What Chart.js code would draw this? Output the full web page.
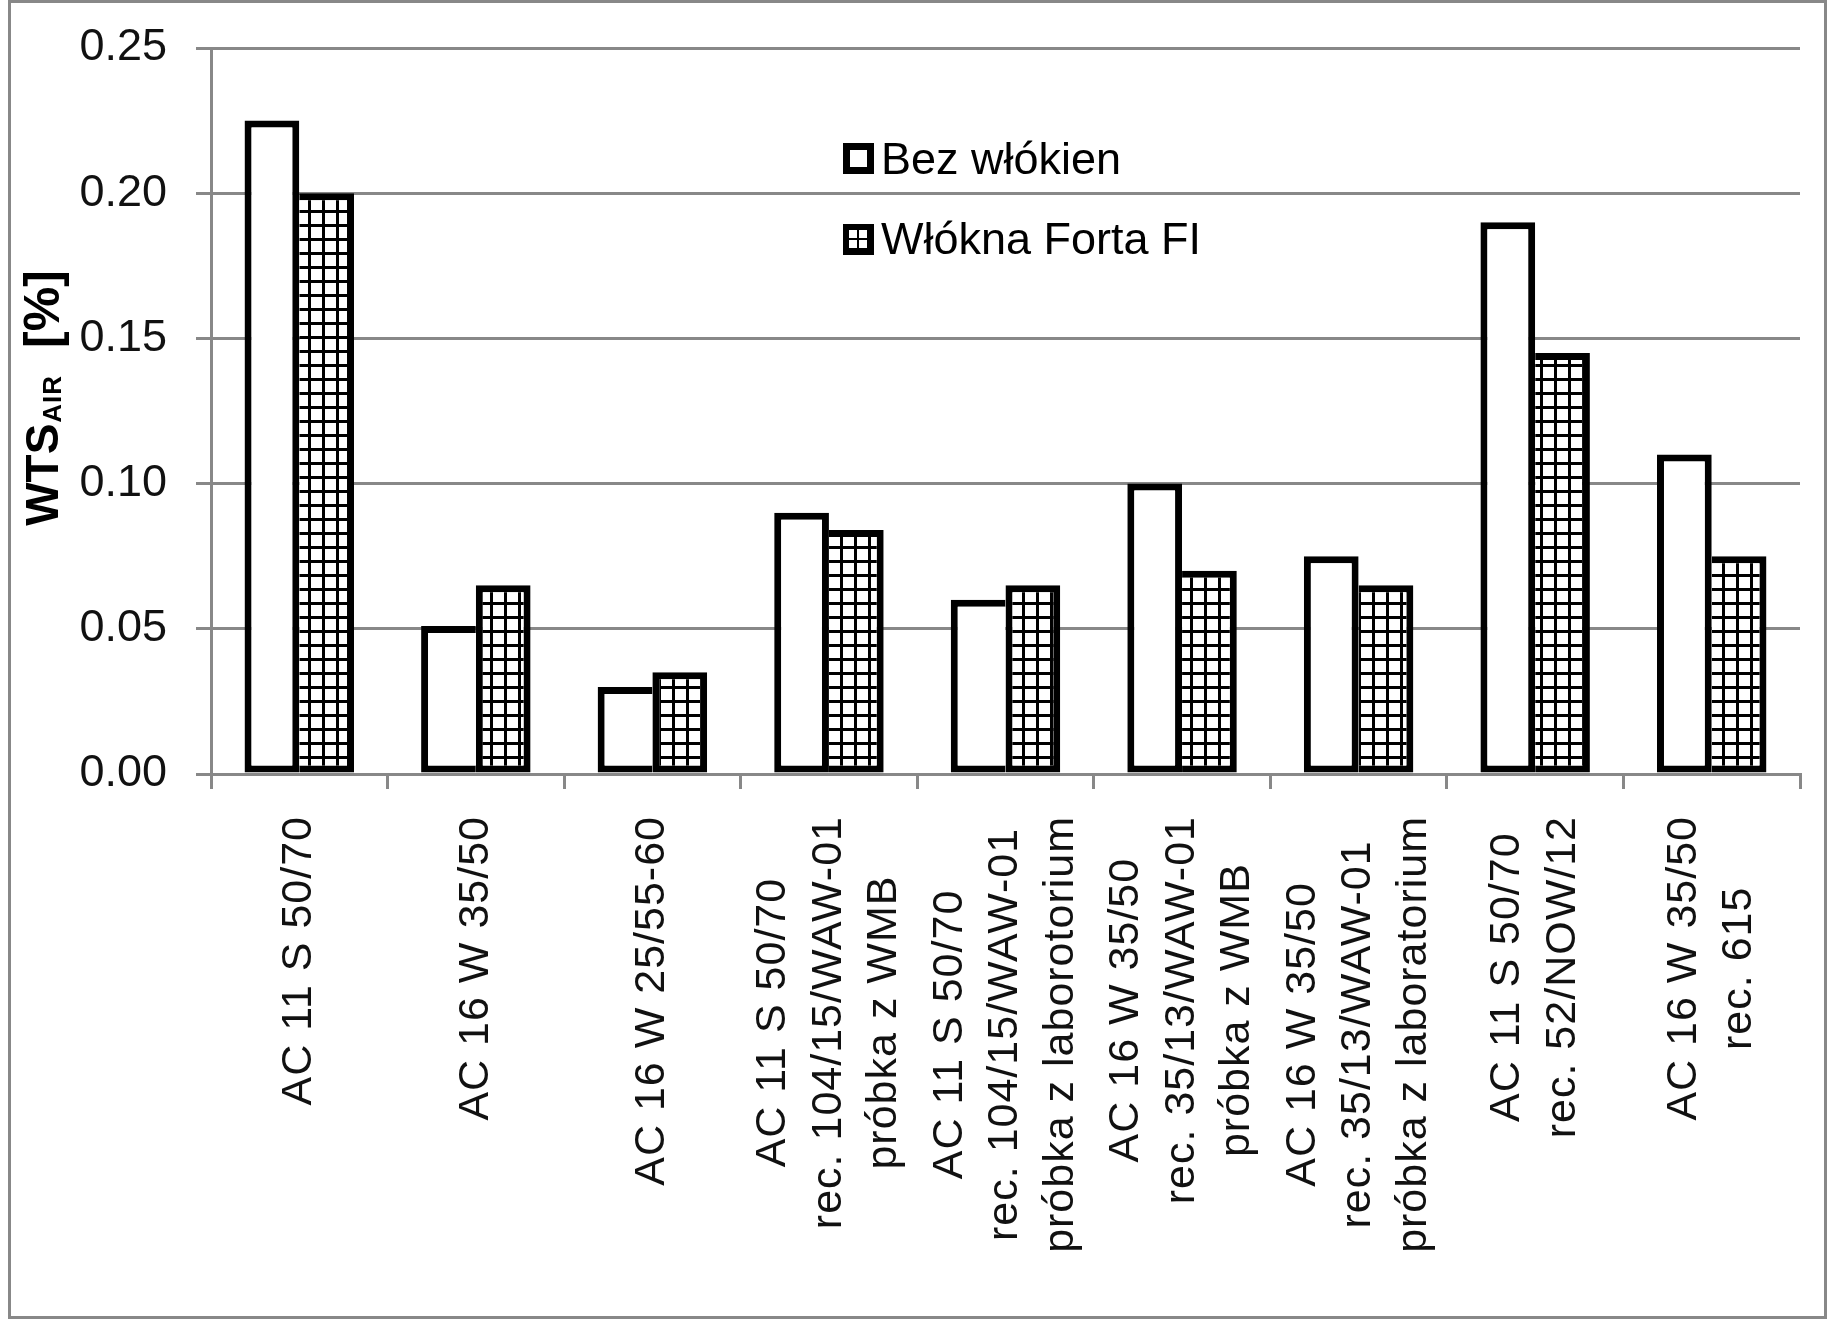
<!DOCTYPE html>
<html>
<head>
<meta charset="utf-8">
<script src="https://cdn.jsdelivr.net/npm/chart.js@4.4.1/dist/chart.umd.min.js"></script>
<style>
  html, body { margin: 0; padding: 0; background: #fff; }
  #wrap { width: 1832px; height: 1322px; position: relative; }
</style>
</head>
<body>
<div id="wrap"><canvas id="chart"></canvas></div>
<script>
const categories = [
  ['AC 11 S 50/70'],
  ['AC 16 W 35/50'],
  ['AC 16 W 25/55-60'],
  ['AC 11 S 50/70', 'rec. 104/15/WAW-01', 'próbka z WMB'],
  ['AC 11 S 50/70', 'rec. 104/15/WAW-01', 'próbka z laborotorium'],
  ['AC 16 W 35/50', 'rec. 35/13/WAW-01', 'próbka z WMB'],
  ['AC 16 W 35/50', 'rec. 35/13/WAW-01', 'próbka z laboratorium'],
  ['AC 11 S 50/70', 'rec. 52/NOW/12'],
  ['AC 16 W 35/50', 'rec. 615'],
];
const seriesNames = ['Bez włókien', 'Włókna Forta FI'];
const bezWlokien = [0.225, 0.051, 0.030, 0.090, 0.060, 0.100, 0.075, 0.190, 0.110];
const wloknaForta = [0.200, 0.065, 0.035, 0.084, 0.065, 0.070, 0.065, 0.145, 0.075];
const yTicks = [0, 0.05, 0.10, 0.15, 0.20, 0.25];

const FONT = '"Liberation Sans", Arial, sans-serif';
const GRID = '#888';
const BW = 7;
const LINE_H = 55.5;

function makeHatch(ctx) {
  const c = document.createElement('canvas');
  c.width = 14; c.height = 14;
  const p = c.getContext('2d');
  p.fillStyle = '#000'; p.fillRect(0, 0, 14, 14);
  p.fillStyle = '#fff'; p.fillRect(3, 3, 11, 11);
  return ctx.createPattern(c, 'repeat');
}

const decor = {
  id: 'decor',
  beforeDraw(chart) {
    const ctx = chart.ctx;
    ctx.save();
    ctx.fillStyle = '#fff';
    ctx.fillRect(0, 0, chart.width, chart.height);
    ctx.restore();
  },
  afterDraw(chart) {
    const ctx = chart.ctx, xs = chart.scales.x, area = chart.chartArea;
    ctx.save();
    // outer frame
    ctx.strokeStyle = GRID; ctx.lineWidth = 3;
    ctx.strokeRect(9.5, 1.5, 1816, 1316);

    // category labels, rotated, lines centred on each other
    ctx.font = '43px ' + FONT;
    ctx.letterSpacing = '1px';
    ctx.fillStyle = '#111';
    ctx.textAlign = 'center';
    ctx.textBaseline = 'middle';
    categories.forEach((lines, i) => {
      const cx = xs.getPixelForValue(i);
      const L = Math.max(...lines.map(t => ctx.measureText(t).width));
      ctx.save();
      ctx.translate(cx, area.bottom + 42);
      ctx.rotate(-Math.PI / 2);
      lines.forEach((t, k) => ctx.fillText(t, -L / 2, (k - (lines.length - 1) / 2) * LINE_H));
      ctx.restore();
    });
    ctx.letterSpacing = '0px';

    // y axis title with subscript
    ctx.save();
    ctx.translate(58, 398);
    ctx.rotate(-Math.PI / 2);
    ctx.textAlign = 'left';
    ctx.textBaseline = 'alphabetic';
    ctx.fillStyle = '#000';
    const big = 'bold 46px ' + FONT, small = 'bold 26px ' + FONT, unit = 'bold 50px ' + FONT;
    const gap = 28;
    ctx.font = big; const w1 = ctx.measureText('WTS').width;
    ctx.font = small; ctx.letterSpacing = '1px'; const w2 = ctx.measureText('AIR').width; ctx.letterSpacing = '0px';
    ctx.font = unit; const w3 = ctx.measureText('[%]').width;
    const sx = -(w1 + w2 + gap + w3) / 2;
    ctx.font = big; ctx.fillText('WTS', sx, 0);
    ctx.font = small; ctx.letterSpacing = '1px'; ctx.fillText('AIR', sx + w1 + 1, 3); ctx.letterSpacing = '0px';
    ctx.font = unit; ctx.fillText('[%]', sx + w1 + w2 + gap, 1);
    ctx.restore();

    // legend inside plot
    const lx = 843, ly = [143, 224], box = 31;
    ctx.fillStyle = '#000'; ctx.fillRect(lx, ly[0], box, box);
    ctx.fillStyle = '#fff'; ctx.fillRect(lx + BW, ly[0] + BW, box - 2 * BW, box - 2 * BW);
    ctx.fillStyle = '#000'; ctx.fillRect(lx, ly[1], box, box);
    ctx.fillStyle = '#fff';
    [[6, 6], [16, 6], [6, 16], [16, 16]].forEach(([a, b]) => ctx.fillRect(lx + a, ly[1] + b, 8, 8));
    ctx.fillStyle = '#000';
    ctx.font = '45px ' + FONT;
    ctx.textAlign = 'left';
    ctx.textBaseline = 'alphabetic';
    ctx.fillText(seriesNames[0], lx + 38, ly[0] + 31);
    ctx.fillText(seriesNames[1], lx + 38, ly[1] + 30);
    ctx.restore();
  }
};

const canvas = document.getElementById('chart');
const ctx = canvas.getContext('2d');
const hatch = makeHatch(ctx);

const tallerWhite = i => bezWlokien[i] >= wloknaForta[i];

new Chart(ctx, {
  type: 'bar',
  data: {
    labels: categories,
    datasets: [
      {
        label: seriesNames[0],
        data: bezWlokien,
        backgroundColor: '#fff',
        borderColor: '#000',
        borderSkipped: false,
        borderWidth: c => c.dataIndex === undefined ? BW :
          { top: BW, bottom: BW, left: BW, right: tallerWhite(c.dataIndex) ? BW : 0 },
      },
      {
        label: seriesNames[1],
        data: wloknaForta,
        backgroundColor: hatch,
        borderColor: '#000',
        borderSkipped: false,
        borderWidth: c => c.dataIndex === undefined ? BW :
          { top: BW, bottom: BW, right: BW, left: tallerWhite(c.dataIndex) ? 0 : BW },
      },
    ],
  },
  options: {
    responsive: true,
    maintainAspectRatio: false,
    animation: false,
    devicePixelRatio: 1,
    layout: { padding: { top: 48, right: 32, bottom: 0, left: 0 } },
    datasets: { bar: { categoryPercentage: 0.62, barPercentage: 1 } },
    plugins: { legend: { display: false }, tooltip: { enabled: false } },
    scales: {
      x: {
        grid: { offset: true, drawOnChartArea: false, color: GRID, lineWidth: 3, tickLength: 15 },
        border: { color: GRID, width: 3 },
        ticks: { display: false, autoSkip: false },
        afterFit(s) { s.height = 548; },
      },
      y: {
        min: 0,
        max: 0.25,
        afterBuildTicks(s) { s.ticks = yTicks.map(v => ({ value: v })); },
        ticks: {
          callback: v => Number(v).toFixed(2),
          font: { family: FONT, size: 45 },
          color: '#111',
          padding: 29,
        },
        grid: { color: GRID, lineWidth: 3, tickLength: 15 },
        border: { color: GRID, width: 3 },
        afterFit(s) { s.width = 211; s.paddingTop = 0; },
      },
    },
  },
  plugins: [decor],
});
</script>
</body>
</html>
